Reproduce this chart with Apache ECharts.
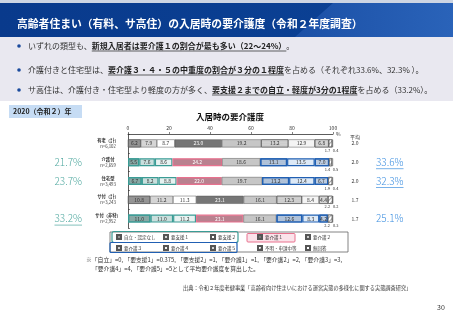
<!DOCTYPE html>
<html>
<head>
<meta charset="utf-8">
<script src="https://cdn.jsdelivr.net/npm/echarts@6/dist/echarts.min.js"></script>
<style>
html,body{margin:0;padding:0;background:#fff}
#main{width:453px;height:320px}
</style>
</head>
<body>
<div id="main"></div>
<script>
// 施設類型と回答数
var categories = ['有老（計）', '介護付', '住宅型', 'サ付（計）', 'サ付（非特）'];
var counts = ['n=6,102', 'n=2,659', 'n=3,493', 'n=3,243', 'n=2,952'];
var levels = ['自立・認定なし', '要支援１', '要支援２', '要介護１', '要介護２', '要介護３', '要介護４', '要介護５', '不明・申請中等', '無回答'];

// 要介護度別の割合(%)
var jiritsu = [6.2, 5.5, 6.7, 10.8, 11.0];
var shien1 = [7.9, 7.6, 8.2, 11.2, 11.0];
var shien2 = [8.7, 8.6, 8.8, 11.3, 11.2];
var kaigo1 = [23.0, 24.2, 22.0, 23.1, 23.1];
var kaigo2 = [19.2, 18.6, 19.7, 16.1, 16.1];
var kaigo3 = [13.2, 13.1, 13.2, 12.3, 12.6];
var kaigo4 = [12.9, 13.5, 12.4, 8.4, 8.3];
var kaigo5 = [6.8, 7.0, 6.7, 4.4, 4.2];
var fumei = [1.7, 1.4, 1.9, 2.2, 2.2];
var mukaito = [0.4, 0.5, 0.4, 0.2, 0.3];
var avgs = ['2.0', '2.0', '2.0', '1.7', '1.7'];
var xTicks = [0, 20, 40, 60, 80, 100];

// 強調する行
var highlightRows = [1, 2, 4];
var underlineLeft = [4];
var underlineRight = [1, 2];

var levelData = [jiritsu, shien1, shien2, kaigo1, kaigo2, kaigo3, kaigo4, kaigo5, fumei, mukaito];

var FONT = '"Noto Sans CJK JP", "Noto Sans", sans-serif';

// 軽度(自立〜要支援2)と中重度(要介護3〜5)の合計
function sumOf(idx, i) {
	var s = 0;
	idx.forEach(function (k) { s += levelData[k][i]; });
	return s.toFixed(1) + '%';
}
var leftPct = categories.map(function (c, i) { return highlightRows.indexOf(i) >= 0 ? sumOf([0, 1, 2], i) : ''; });
var rightPct = categories.map(function (c, i) { return highlightRows.indexOf(i) >= 0 ? sumOf([5, 6, 7], i) : ''; });

var baseColors = ['#9c9c9c', '#d5d5d5', '#ffffff', '#767676', '#c6c6c6', '#d9d9d9', '#f4f4f4', '#dfdfdf', '#ffffff', '#ffffff'];
var hlColors = ['#8fb1ae', '#c9dfdd', '#e7f2f1', '#b9818f', null, '#b9cce4', '#dde9f6', '#c5d6ec', null, null];
var hlBorder = ['#3b9c95', '#3b9c95', '#3b9c95', '#e8718e', null, '#2160b3', '#2160b3', '#2160b3', null, null];
var dots = { symbol: 'circle', symbolSize: 0.5, dashArrayX: [2, 0], dashArrayY: [2, 0], color: 'rgba(0,0,0,0.28)' };
var hatch = { symbol: 'rect', rotation: -0.8, dashArrayX: [1, 0], dashArrayY: [1, 1.5], color: 'rgba(0,0,0,0.35)' };
var decals = [dots, null, null, null, null, dots, null, dots, hatch, null];

// 文字幅の計測(下線用)
var ctx = document.createElement('canvas').getContext('2d');
function textW(str, size, weight) {
	ctx.font = (weight || 'normal') + ' ' + size + 'px ' + FONT;
	return ctx.measureText(str).width;
}
function txt(x, y, text, size, opt) {
	opt = opt || {};
	return {
		type: 'text', x: x, y: y, z: 20,
		style: {
			text: text, fontSize: size, fontFamily: FONT, fontWeight: opt.weight || 'normal',
			fill: opt.color || '#333', align: opt.align || 'left', verticalAlign: 'middle', rich: opt.rich
		}
	};
}
function uline(x1, x2, y, color, w) {
	return { type: 'line', z: 20, shape: { x1: x1, y1: y, x2: x2, y2: y }, style: { stroke: color || '#333', lineWidth: w || 0.6 } };
}

var bullets = [
	['いずれの類型も、', '新規入居者は要介護１の割合が最も多い（22～24%）', '。'],
	['介護付きと住宅型は、', '要介護３・４・５の中重度の割合が３分の１程度', 'を占める（それぞれ33.6%、32.3% ）。'],
	['サ高住は、介護付き・住宅型より軽度の方が多く、', '要支援２までの自立・軽度が3分の1程度', 'を占める（33.2%）。']
];
var bulletY = [46, 70, 90];

var graphics = [
	{ type: 'rect', shape: { x: 0, y: 0, width: 453, height: 3 }, style: { fill: '#cdd5e3' } },
	{ type: 'rect', shape: { x: 0, y: 3, width: 453, height: 34 },
		style: { fill: new echarts.graphic.LinearGradient(0, 0, 1, 0, [{ offset: 0, color: '#093a8c' }, { offset: 1, color: '#0b4296' }]) } },
	{ type: 'polygon', shape: { points: [[295, 37], [333, 3], [453, 3], [453, 37]] },
		style: { fill: new echarts.graphic.LinearGradient(0, 0, 1, 0, [{ offset: 0, color: '#1b50a6' }, { offset: 1, color: '#2a63b9' }]) } },
	txt(17, 24, '高齢者住まい（有料、サ高住）の入居時の要介護度（令和２年度調査）', 10.8, { weight: 'bold', color: '#fff' }),
	{ type: 'rect', shape: { x: 0, y: 37, width: 453, height: 64 }, style: { fill: '#e9e8f0' } },
	{ type: 'rect', shape: { x: 9, y: 105, width: 73, height: 13 }, style: { fill: '#c6dcf4' } },
	txt(13, 111.5, '2020（令和２）年', 7, { weight: 'bold', color: '#222' }),
	txt(230, 117, '入居時の要介護度', 8.5, { weight: 'bold', color: '#111', align: 'center' }),
	txt(355, 137, '平均', 5, { align: 'center' }),
	// 凡例の枠
	{ type: 'rect', z: 1, shape: { x: 110, y: 232, width: 238, height: 20 }, style: { fill: '#fff', stroke: '#666', lineWidth: 0.8 } },
	{ type: 'rect', z: 2, shape: { x: 112, y: 231.5, width: 126, height: 11, r: 2 }, style: { fill: 'none', stroke: '#3b9c95', lineWidth: 1.2 } },
	{ type: 'rect', z: 2, shape: { x: 110, y: 242.5, width: 127, height: 10, r: 1 }, style: { fill: 'none', stroke: '#2160b3', lineWidth: 1.2 } },
	{ type: 'rect', z: 2, shape: { x: 247, y: 233.5, width: 48, height: 8.5, r: 1 }, style: { fill: '#fbe3ea', stroke: '#e8718e', lineWidth: 1 } },
	txt(86, 260, '※「自立」=0, 「要支援1」=0.375, 「要支援2」=1, 「要介護1」=1, 「要介護2」=2, 「要介護3」=3,', 5.8),
	txt(92, 269, '「要介護4」=4, 「要介護5」=5として平均要介護度を算出した。', 5.8),
	txt(183, 288, '出典：令和２年度老健事業「高齢者向け住まいにおける運営実態の多様化に関する実態調査研究」', 5.2),
	txt(437, 307, '30', 7)
];

bullets.forEach(function (b, i) {
	var y = bulletY[i];
	graphics.push({ type: 'circle', shape: { cx: 19, cy: y, r: 1.8 }, style: { fill: '#1b4a9c' } });
	graphics.push(txt(28, y, '{n|' + b[0] + '}{b|' + b[1] + '}{n|' + b[2] + '}', 8, {
		rich: {
			n: { fontSize: 8, fontFamily: FONT, fill: '#333' },
			b: { fontSize: 8, fontFamily: FONT, fontWeight: 'bold', fill: '#222' }
		}
	}));
	var x1 = 28 + textW(b[0], 8);
	graphics.push(uline(x1, x1 + textW(b[1], 8, 'bold'), y + 5, '#222', 0.7));
});

var series = levels.map(function (name, k) {
	var isSmall = k >= 8;
	return {
		name: name,
		type: 'bar',
		stack: 'total',
		barWidth: 8,
		itemStyle: { color: baseColors[k], borderColor: '#555', borderWidth: 0.5, decal: decals[k] },
		label: {
			show: true,
			position: isSmall ? 'bottom' : 'inside',
			distance: 1,
			offset: isSmall ? [k === 8 ? -3 : 3, 0] : [0, 0],
			fontSize: isSmall ? 4 : 5,
			fontFamily: FONT,
			color: k === 3 ? '#fff' : '#333',
			formatter: function (p) { return p.value.toFixed(1); }
		},
		data: levelData[k].map(function (v, i) {
			if (highlightRows.indexOf(i) >= 0 && hlBorder[k]) {
				return { value: v, itemStyle: { color: hlColors[k], borderColor: hlBorder[k], borderWidth: 1.2, decal: decals[k] } };
			}
			return v;
		})
	};
});

// 凡例: 5列×2行、列ごとに位置をそろえる
var legendCols = [116, 163, 210, 257, 305];
var legends = levels.map(function (name, k) {
	return {
		data: [name],
		left: legendCols[k % 5],
		top: k < 5 ? 234 : 245,
		icon: 'rect', itemWidth: 4, itemHeight: 4, itemGap: 2,
		selectedMode: false, z: 10, padding: 0,
		textStyle: { fontSize: 4.5, fontFamily: FONT, color: '#333', padding: [0, 0, 0, -2] }
	};
});

var myChart = echarts.init(document.getElementById('main'));
var option = {
	animation: false,
	backgroundColor: '#fff',
	grid: { left: 128, right: 120, top: 134, bottom: 92 },
	legend: legends,
	xAxis: {
		type: 'value', position: 'top', min: xTicks[0], max: xTicks[xTicks.length - 1], interval: xTicks[1] - xTicks[0],
		name: '%', nameLocation: 'end', nameGap: 3,
		nameTextStyle: { fontSize: 5, fontFamily: FONT, color: '#333' },
		axisLine: { show: true, lineStyle: { color: '#333', width: 0.8 } },
		axisTick: { show: true, length: 2, lineStyle: { color: '#333', width: 0.6 } },
		axisLabel: { fontSize: 5, fontFamily: FONT, color: '#333', margin: 3 },
		splitLine: { show: false }
	},
	yAxis: [
		{
			type: 'category', inverse: true, data: categories, position: 'left',
			axisLine: { show: true, lineStyle: { color: '#333', width: 0.8 } },
			axisTick: { show: true, inside: true, length: 2, lineStyle: { color: '#333', width: 0.6 } },
			axisLabel: {
				margin: 20, align: 'center',
				formatter: function (v, i) { return '{a|' + v + '}\n{b|' + counts[i] + '}'; },
				rich: {
					a: { fontSize: 4.3, fontFamily: FONT, fontWeight: 'bold', color: '#333', lineHeight: 6 },
					b: { fontSize: 4.3, fontFamily: FONT, color: '#333', lineHeight: 6 }
				}
			}
		},
		{
			type: 'category', inverse: true, data: avgs, position: 'right',
			axisLine: { show: false }, axisTick: { show: false },
			axisLabel: { margin: 22, align: 'center', fontSize: 5, fontFamily: FONT, color: '#333' }
		},
		{
			type: 'category', inverse: true, data: leftPct, position: 'left',
			axisLine: { show: false }, axisTick: { show: false },
			axisLabel: { margin: 46, fontSize: 10, fontFamily: FONT, fontWeight: 300, color: '#4fa89f' }
		},
		{
			type: 'category', inverse: true, data: rightPct, position: 'right',
			axisLine: { show: false }, axisTick: { show: false },
			axisLabel: { margin: 43, fontSize: 10, fontFamily: FONT, fontWeight: 300, color: '#3d8fe0' }
		}
	],
	graphic: { elements: graphics },
	series: series
};
myChart.setOption(option);

// 割合の下線
var extra = [];
underlineLeft.forEach(function (i) {
	var y = myChart.convertToPixel({ yAxisIndex: 0 }, categories[i]) + 6.5;
	var w = textW(leftPct[i], 10, 300);
	extra.push(uline(128 - 46 - w, 128 - 46, y, '#4fa89f', 0.7));
});
underlineRight.forEach(function (i) {
	var y = myChart.convertToPixel({ yAxisIndex: 0 }, categories[i]) + 6.5;
	var x0 = 453 - 120 + 43;
	extra.push(uline(x0, x0 + textW(rightPct[i], 10, 300), y, '#3d8fe0', 0.7));
});
myChart.setOption({ graphic: { elements: graphics.concat(extra) } });
</script>
</body>
</html>
